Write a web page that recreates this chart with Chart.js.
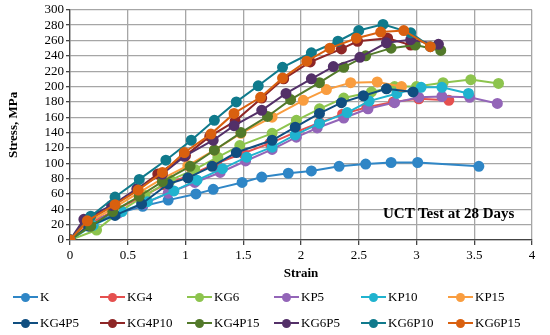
<!DOCTYPE html>
<html>
<head>
<meta charset="utf-8">
<script src="https://cdn.jsdelivr.net/npm/chart.js@4.4.0/dist/chart.umd.min.js"></script>
<style>
html, body { margin: 0; padding: 0; background: #fff; }
#wrap { position: relative; width: 550px; height: 335px; font-family: "Liberation Serif", "Times New Roman", serif; color: #000; }
#myChart { position: absolute; left: 0; top: 0; }
.note { position: absolute; left: 383px; top: 205px; font-weight: bold; font-size: 15px; }
.item { position: absolute; height: 14px; font-size: 13px; line-height: 14px; white-space: nowrap; }
.item .ln { position: absolute; left: 0; top: 6px; width: 25px; height: 2px; }
.item .dot { position: absolute; left: 8px; top: 2.5px; width: 9px; height: 9px; border-radius: 50%; }
.item span { position: absolute; left: 27px; top: 0; }
</style>
</head>
<body>
<div id="wrap">
  <canvas id="myChart" width="550" height="335"></canvas>
  <div class="note">UCT Test at 28 Days</div>
  <div id="legend"></div>
</div>
<script>
// strain / stress readings for each mix
const seriesNames = ['K', 'KG4', 'KG6', 'KP5', 'KP10', 'KP15', 'KG4P5', 'KG4P10', 'KG4P15', 'KG6P5', 'KG6P10', 'KG6P15'];
const seriesColors = ['#2F86C6', '#E5504F', '#8DC44E', '#9365B8', '#20B3CF', '#F99D3F',
    '#104E80', '#8E2626', '#52792A', '#533068', '#107A8C', '#D9600F'];

const K_strain = [0, 0.17, 0.4, 0.63, 0.85, 1.09, 1.24, 1.49, 1.66, 1.89, 2.09, 2.33, 2.56, 2.78, 3.01, 3.54];
const K_stress = [0, 20, 34, 44, 52, 60, 66, 75, 82, 87, 90, 96, 99, 101, 101, 96];

const KG4_strain = [0, 0.15, 0.38, 0.6, 0.82, 1.05, 1.27, 1.5, 1.73, 1.96, 2.16, 2.36, 2.57, 2.8, 3.02, 3.28];
const KG4_stress = [0, 20, 38, 55, 72, 85, 100, 113, 126, 141, 153, 164, 173, 180, 184, 182];

const KG6_strain = [0, 0.23, 0.44, 0.65, 0.87, 1.08, 1.28, 1.47, 1.75, 1.96, 2.16, 2.37, 2.61, 2.81, 3.0, 3.23, 3.47, 3.71];
const KG6_stress = [0, 13, 38, 58, 78, 92, 108, 123, 139, 156, 171, 185, 193, 200, 200, 205, 209, 204];

const KP5_strain = [0, 0.14, 0.42, 0.64, 0.85, 1.08, 1.3, 1.52, 1.75, 1.96, 2.14, 2.37, 2.58, 2.81, 3.02, 3.22, 3.46, 3.7];
const KP5_stress = [0, 26, 35, 47, 61, 75, 88, 103, 118, 134, 146, 159, 171, 179, 186, 187, 186, 178];

const KP10_strain = [0, 0.2, 0.45, 0.67, 0.9, 1.1, 1.32, 1.53, 1.75, 1.95, 2.16, 2.4, 2.59, 2.83, 3.04, 3.22, 3.45];
const KP10_stress = [0, 19, 37, 50, 64, 78, 93, 108, 121, 137, 152, 166, 181, 191, 199, 199, 191];

const KP15_strain = [0, 0.15, 0.38, 0.6, 0.8, 1.02, 1.25, 1.48, 1.75, 2.02, 2.22, 2.43, 2.66, 2.87];
const KP15_stress = [0, 22, 42, 62, 80, 97, 117, 139, 160, 182, 196, 205, 206, 200];

const KG4P5_strain = [0, 0.16, 0.39, 0.62, 0.85, 1.02, 1.23, 1.44, 1.75, 1.95, 2.16, 2.35, 2.54, 2.74, 2.97];
const KG4P5_stress = [0, 18, 32, 47, 73, 81, 96, 114, 130, 147, 165, 179, 188, 197, 193];

const KG4P10_strain = [0, 0.13, 0.37, 0.58, 0.76, 1.0, 1.21, 1.43, 1.66, 1.85, 2.08, 2.35, 2.49, 2.75, 2.95];
const KG4P10_stress = [0, 25, 45, 66, 86, 110, 135, 155, 185, 210, 232, 249, 259, 263, 254];

const KG4P15_strain = [0, 0.18, 0.37, 0.6, 0.8, 1.04, 1.25, 1.48, 1.71, 1.91, 2.16, 2.37, 2.56, 2.78, 2.99, 3.21];
const KG4P15_stress = [0, 18, 37, 57, 76, 96, 117, 140, 161, 183, 205, 225, 240, 250, 254, 247];

const KG6P5_strain = [0, 0.12, 0.36, 0.58, 0.8, 0.99, 1.24, 1.42, 1.66, 1.87, 2.09, 2.28, 2.51, 2.74, 2.95, 3.19];
const KG6P5_stress = [0, 27, 45, 67, 86, 109, 130, 149, 169, 191, 210, 226, 238, 257, 261, 255];

const KG6P10_strain = [0, 0.18, 0.39, 0.6, 0.83, 1.05, 1.25, 1.44, 1.63, 1.84, 2.09, 2.32, 2.5, 2.71, 2.95, 3.12];
const KG6P10_stress = [0, 31, 56, 79, 104, 130, 156, 180, 201, 225, 244, 259, 273, 281, 270, 252];

const KG6P15_strain = [0, 0.15, 0.39, 0.59, 0.8, 0.99, 1.22, 1.42, 1.65, 1.84, 2.05, 2.25, 2.48, 2.69, 2.89, 3.12];
const KG6P15_stress = [0, 25, 46, 65, 88, 114, 138, 165, 186, 211, 233, 250, 263, 271, 273, 252];

const strainData = [K_strain, KG4_strain, KG6_strain, KP5_strain, KP10_strain, KP15_strain,
    KG4P5_strain, KG4P10_strain, KG4P15_strain, KG6P5_strain, KG6P10_strain, KG6P15_strain];
const stressData = [K_stress, KG4_stress, KG6_stress, KP5_stress, KP10_stress, KP15_stress,
    KG4P5_stress, KG4P10_stress, KG4P15_stress, KG6P5_stress, KG6P10_stress, KG6P15_stress];

const serif = '"Liberation Serif", "Times New Roman", serif';

const datasets = seriesNames.map((name, i) => ({
    label: name,
    data: strainData[i].map((x, j) => ({ x: x, y: stressData[i][j] })),
    borderColor: seriesColors[i],
    backgroundColor: seriesColors[i],
    borderWidth: 2,
    pointRadius: 4.5,
    pointHoverRadius: 4.5,
    showLine: true,
    order: seriesNames.length - i
}));

const ctx = document.getElementById('myChart').getContext('2d');
const chart = new Chart(ctx, {
    type: 'scatter',
    data: { datasets: datasets },
    options: {
        responsive: false,
        animation: false,
        layout: { padding: { left: 0, right: 18, top: 9, bottom: 50 } },
        plugins: {
            legend: { display: false },
            tooltip: { enabled: false }
        },
        scales: {
            x: {
                type: 'linear',
                min: 0,
                max: 4,
                ticks: {
                    stepSize: 0.5, color: '#000', padding: 3, font: { family: serif, size: 13 },
                    callback: (value) => String(value)
                },
                grid: { color: '#a6a6a6', lineWidth: 1.3, tickLength: 5, tickColor: '#444' },
                border: { color: '#444', width: 1.3 },
                title: { display: true, text: 'Strain', color: '#000', font: { family: serif, size: 13, weight: 'bold' }, padding: { top: 2, bottom: 4 } },
                afterFit: (scale) => { scale.height = 45; }
            },
            y: {
                min: 0,
                max: 300,
                ticks: { stepSize: 20, autoSkip: false, color: '#000', padding: 2, font: { family: serif, size: 13 } },
                grid: { color: '#a6a6a6', lineWidth: 1.3, tickLength: 4, tickColor: '#444' },
                border: { color: '#444', width: 1.3 },
                title: { display: true, text: 'Stress, MPa', color: '#000', font: { family: serif, size: 13, weight: 'bold' }, padding: { top: 6, bottom: 0 } },
                afterFit: (scale) => { scale.width = 70; }
            }
        }
    }
});

// legend in a fixed 6-column grid like the original
const legend = document.getElementById('legend');
seriesNames.forEach((name, i) => {
    const item = document.createElement('div');
    item.className = 'item';
    item.style.left = (13 + 87 * (i % 6)) + 'px';
    item.style.top = (i < 6 ? 290 : 316) + 'px';
    item.innerHTML = '<div class="ln" style="background:' + seriesColors[i] + '"></div>' +
        '<div class="dot" style="background:' + seriesColors[i] + '"></div><span>' + name + '</span>';
    legend.appendChild(item);
});
</script>
</body>
</html>
